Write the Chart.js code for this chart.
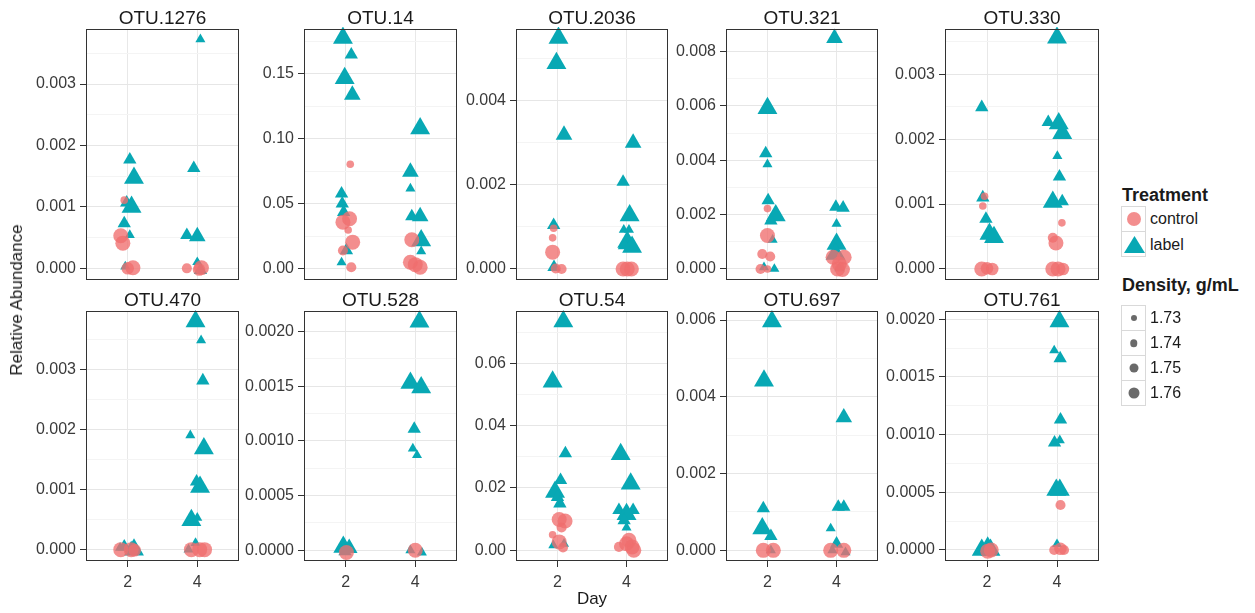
<!DOCTYPE html>
<html>
<head>
<meta charset="utf-8">
<script src="https://cdn.jsdelivr.net/npm/chart.js@4.4.0/dist/chart.umd.min.js"></script>
<style>
  body { margin: 0; background: #fff; font-family: "Liberation Sans", Arial, sans-serif; }
  #wrap { position: relative; width: 1255px; height: 613px; overflow: hidden; }
  #wrap canvas { position: absolute; }
  .strip { position: absolute; font-size: 19px; line-height: 22px; height: 22px; color: #1a1a1a; text-align: center; }
  .axis-title { position: absolute; font-size: 17px; color: #1a1a1a; white-space: nowrap; }
  .lg-title { position: absolute; left: 1122px; font-size: 18px; font-weight: bold; color: #1a1a1a; line-height: 20px; white-space: nowrap; }
  .lg-key { position: absolute; left: 1121px; width: 25px; border: 1px solid #d9d9d9; background: #fff; box-sizing: border-box; }
  .lg-key span { position: absolute; left: 50%; top: 50%; transform: translate(-50%, -50%); border-radius: 50%; }
  .lg-key svg { position: absolute; left: 0; top: 0; }
  .lg-text { position: absolute; left: 1150px; font-size: 16px; color: #1a1a1a; line-height: 20px; }
</style>
</head>
<body>
<div id="wrap"></div>
<script>
// facet names
const otuNames = ['OTU.1276', 'OTU.14', 'OTU.2036', 'OTU.321', 'OTU.330',
                  'OTU.470', 'OTU.528', 'OTU.54', 'OTU.697', 'OTU.761'];

// each point: [day (jittered), relative abundance, density g/mL]
const control1276 = [[1.90,0.00111,1.73],[1.80,0.00053,1.76],[1.86,0.00041,1.76],[2.00,0.00000,1.75],[2.15,0.00001,1.76],[3.70,0.00000,1.74],[4.12,0.00001,1.76],[4.05,-0.00002,1.75]];
const label1276 = [[4.09,0.00373,1.73],[2.06,0.00177,1.74],[2.18,0.00147,1.76],[1.97,0.00107,1.74],[2.11,0.00100,1.76],[1.90,0.00073,1.74],[2.06,0.00054,1.73],[3.90,0.00163,1.74],[3.70,0.00054,1.74],[4.00,0.00052,1.75],[4.00,0.00010,1.73],[1.93,0.00003,1.73],[4.09,-0.00003,1.74]];

const control14 = [[2.13,0.0805,1.73],[2.11,0.0386,1.76],[1.92,0.0360,1.76],[2.07,0.0300,1.73],[2.20,0.0206,1.76],[1.92,0.0142,1.74],[2.16,0.0013,1.74],[3.90,0.0224,1.76],[3.86,0.0051,1.76],[4.00,0.0033,1.76],[4.14,0.0013,1.76]];
const label14 = [[1.92,0.1776,1.76],[2.16,0.1647,1.74],[1.97,0.1467,1.76],[2.19,0.1338,1.75],[1.88,0.0579,1.74],[1.90,0.0502,1.74],[1.94,0.0437,1.74],[2.02,0.0142,1.74],[1.88,0.0050,1.73],[4.14,0.1080,1.76],[3.86,0.0746,1.75],[3.86,0.0618,1.73],[3.90,0.0404,1.74],[4.14,0.0404,1.75],[4.17,0.0219,1.76],[4.17,0.0136,1.73]];

const control2036 = [[1.89,0.00097,1.73],[1.86,0.00074,1.73],[1.86,0.00040,1.76],[2.12,0.00000,1.74],[1.95,0.00001,1.74],[3.90,0.00000,1.76],[4.02,0.00000,1.76],[4.14,0.00000,1.76]];
const label2036 = [[2.03,0.00550,1.76],[1.97,0.00490,1.76],[2.19,0.00319,1.75],[1.89,0.00104,1.74],[1.90,0.00004,1.74],[4.19,0.00300,1.75],[3.90,0.00207,1.74],[4.09,0.00127,1.76],[3.92,0.00093,1.73],[4.07,0.00093,1.73],[4.02,0.00064,1.76],[4.16,0.00052,1.76],[3.94,0.00056,1.74]];

const control321 = [[2.00,0.00222,1.73],[2.00,0.00123,1.76],[1.85,0.00055,1.74],[2.08,0.00046,1.74],[1.80,0.00000,1.74],[2.00,0.00000,1.73],[3.90,0.00043,1.76],[4.22,0.00043,1.76],[4.08,0.00018,1.76],[4.03,0.00000,1.76],[4.17,-0.00002,1.76]];
const label321 = [[3.94,0.00849,1.75],[2.00,0.00591,1.76],[1.95,0.00425,1.74],[2.00,0.00385,1.73],[2.02,0.00252,1.74],[2.24,0.00197,1.76],[2.10,0.00178,1.74],[2.15,0.00107,1.73],[3.98,0.00228,1.74],[4.19,0.00225,1.74],[4.00,0.00166,1.73],[4.00,0.00092,1.76],[3.97,0.00055,1.76],[1.90,0.00006,1.73],[2.20,0.00000,1.73],[4.08,0.00002,1.73]];

const control330 = [[1.93,0.00112,1.73],[1.88,0.00097,1.73],[4.14,0.00071,1.73],[3.88,0.00048,1.74],[3.97,0.00040,1.76],[1.85,0.00000,1.76],[2.00,0.00001,1.75],[2.15,0.00000,1.75],[3.88,0.00000,1.76],[4.03,0.00000,1.76],[4.17,0.00000,1.75]];
const label330 = [[4.00,0.00356,1.76],[1.85,0.00249,1.74],[3.75,0.00226,1.74],[4.05,0.00224,1.76],[4.15,0.00209,1.76],[4.01,0.00174,1.73],[4.07,0.00142,1.74],[1.88,0.00110,1.74],[3.88,0.00103,1.76],[4.15,0.00104,1.74],[1.97,0.00077,1.74],[2.07,0.00054,1.76],[2.20,0.00049,1.76]];

const control470 = [[1.80,0.00000,1.76],[2.10,0.00000,1.76],[2.20,-0.00001,1.75],[3.83,0.00000,1.76],[4.07,0.00000,1.76],[4.21,0.00000,1.76]];
const label470 = [[3.95,0.00379,1.76],[4.11,0.00348,1.73],[4.16,0.00281,1.74],[3.80,0.00190,1.73],[4.19,0.00168,1.76],[3.98,0.00113,1.74],[4.08,0.00104,1.76],[3.83,0.00049,1.76],[4.00,0.00053,1.73],[3.95,0.00011,1.73],[3.75,0.00000,1.73],[1.78,0.00003,1.73],[1.90,0.00005,1.74],[2.10,0.00002,1.74],[2.18,0.00000,1.76]];

const control528 = [[2.02,-0.00002,1.76],[4.00,0.00000,1.76]];
const label528 = [[4.12,0.00209,1.76],[3.86,0.00153,1.76],[4.17,0.00149,1.76],[3.97,0.00111,1.74],[3.93,0.00093,1.73],[4.05,0.00087,1.73],[1.93,0.00003,1.76],[2.10,0.00002,1.75],[1.98,-0.00001,1.74],[3.86,0.00000,1.73],[4.19,-0.00002,1.73]];

const control54 = [[2.05,0.0099,1.76],[2.22,0.0094,1.76],[2.12,0.0073,1.74],[1.86,0.0050,1.73],[2.05,0.0027,1.76],[2.16,0.0009,1.74],[3.78,0.0011,1.74],[4.07,0.0032,1.76],[4.00,0.0021,1.76],[4.16,0.0011,1.76],[4.21,0.0000,1.76]];
const label54 = [[2.17,0.0734,1.76],[1.86,0.0541,1.76],[2.23,0.0311,1.74],[2.09,0.0225,1.74],[1.93,0.0187,1.76],[2.00,0.0171,1.74],[2.07,0.0150,1.74],[3.83,0.0308,1.76],[4.12,0.0214,1.76],[3.78,0.0129,1.74],[4.19,0.0129,1.74],[4.00,0.0116,1.76],[3.93,0.0096,1.74],[4.00,0.0073,1.73],[1.88,0.0016,1.73],[2.19,0.0021,1.73]];

const control697 = [[1.88,0.00000,1.76],[2.17,0.00000,1.76],[3.83,0.00000,1.76],[4.21,0.00000,1.76]];
const label697 = [[2.13,0.00596,1.76],[1.90,0.00442,1.76],[4.21,0.00346,1.75],[1.88,0.00109,1.74],[1.85,0.00057,1.76],[2.10,0.00037,1.74],[3.83,0.00057,1.73],[4.05,0.00113,1.74],[4.21,0.00113,1.74],[4.00,0.00017,1.74],[3.88,0.00000,1.73],[2.10,0.00000,1.73],[4.26,-0.00005,1.73]];

const control761 = [[4.10,0.00039,1.74],[3.92,0.00000,1.74],[4.10,0.00001,1.75],[4.20,0.00000,1.74],[2.02,-0.00001,1.76],[2.12,0.00000,1.76]];
const label761 = [[4.07,0.00198,1.76],[3.92,0.00173,1.73],[4.09,0.00166,1.74],[4.10,0.00113,1.74],[3.93,0.00093,1.74],[4.08,0.00095,1.73],[3.98,0.00052,1.76],[4.08,0.00052,1.76],[4.00,0.00005,1.73],[1.85,0.00000,1.76],[2.02,0.00002,1.76],[2.10,0.00000,1.76]];

// y tick labels per facet
const ticks1276 = ['0.000', '0.001', '0.002', '0.003'];
const ticks14 = ['0.00', '0.05', '0.10', '0.15'];
const ticks2036 = ['0.000', '0.002', '0.004'];
const ticks321 = ['0.000', '0.002', '0.004', '0.006', '0.008'];
const ticks330 = ['0.000', '0.001', '0.002', '0.003'];
const ticks470 = ['0.000', '0.001', '0.002', '0.003'];
const ticks528 = ['0.0000', '0.0005', '0.0010', '0.0015', '0.0020'];
const ticks54 = ['0.00', '0.02', '0.04', '0.06'];
const ticks697 = ['0.000', '0.002', '0.004', '0.006'];
const ticks761 = ['0.0000', '0.0005', '0.0010', '0.0015', '0.0020'];

// y axis limits per facet (free scales)
const yMins = [-0.00019, -0.0085, -0.000263, -0.000406, -0.00017, -0.000189, -0.0000977, -0.00343, -0.000278, -0.0000955];
const yMaxs = [0.003897, 0.1845, 0.005713, 0.008825, 0.003696, 0.003966, 0.002189, 0.0768, 0.006235, 0.002072];

const dayTicks = ['2', '4'];
const densityBreaks = ['1.73', '1.74', '1.75', '1.76'];

const controlSets = [control1276, control14, control2036, control321, control330, control470, control528, control54, control697, control761];
const labelSets = [label1276, label14, label2036, label321, label330, label470, label528, label54, label697, label761];
const tickSets = [ticks1276, ticks14, ticks2036, ticks321, ticks330, ticks470, ticks528, ticks54, ticks697, ticks761];

// layout
const colLeft = [86, 304, 516, 726, 945];
const colWidth = [153, 153, 152, 152, 154];
const rowTop = [29, 311];
const rowHeight = [251, 250];
const Y_AXIS_W = 84;
const PAD = 2;

const CONTROL_COLOR = 'rgba(240,110,110,0.78)';
const LABEL_COLOR = 'rgb(8,168,180)';
const FONT = 'Liberation Sans';

// density -> marker radius
const circleR = d => 3.8 + (d - 1.73) / 0.03 * 3.7;
const triR = d => 5.8 + (d - 1.73) / 0.03 * 5.7;

const toPoints = arr => arr.map(p => ({ x: p[0], y: p[1], d: p[2] }));

const panelBorder = {
    id: 'panelBorder',
    afterDraw(chart) {
        const { ctx, chartArea: a } = chart;
        ctx.save();
        ctx.strokeStyle = '#333';
        ctx.lineWidth = 1;
        ctx.strokeRect(Math.round(a.left) + 0.5, Math.round(a.top) + 0.5,
                       Math.round(a.width) - 1, Math.round(a.height) - 1);
        ctx.restore();
    }
};

const wrap = document.getElementById('wrap');

function makePanel(i) {
    const row = Math.floor(i / 5), col = i % 5;
    const xAxisH = row === 1 ? 32 : 0;
    const w = colWidth[col] + Y_AXIS_W + 2 * PAD;
    const h = rowHeight[row] + xAxisH + 2 * PAD;

    const canvas = document.createElement('canvas');
    canvas.width = w;
    canvas.height = h;
    canvas.style.width = w + 'px';
    canvas.style.height = h + 'px';
    canvas.style.left = (colLeft[col] - Y_AXIS_W - PAD) + 'px';
    canvas.style.top = (rowTop[row] - PAD) + 'px';
    wrap.appendChild(canvas);

    const strip = document.createElement('div');
    strip.className = 'strip';
    strip.style.left = colLeft[col] + 'px';
    strip.style.width = colWidth[col] + 'px';
    strip.style.top = (rowTop[row] - 22) + 'px';
    strip.textContent = otuNames[i];
    wrap.appendChild(strip);

    const labels = tickSets[i];
    const majors = labels.map(Number);
    const step = majors[1] - majors[0];
    const minors = [majors[0] - step / 2].concat(majors.map(v => v + step / 2))
        .filter(v => v > yMins[i] && v < yMaxs[i]);
    const isMinor = v => !majors.some(m => Math.abs(m - v) < step * 1e-6);

    new Chart(canvas, {
        type: 'scatter',
        data: {
            datasets: [{
                label: 'control',
                data: toPoints(controlSets[i]),
                pointStyle: 'circle',
                backgroundColor: CONTROL_COLOR,
                borderWidth: 0,
                pointRadius: ctx => ctx.raw ? circleR(ctx.raw.d) : 4,
                clip: false
            }, {
                label: 'label',
                data: toPoints(labelSets[i]),
                pointStyle: 'triangle',
                backgroundColor: LABEL_COLOR,
                borderWidth: 0,
                pointRadius: ctx => ctx.raw ? triR(ctx.raw.d) : 6,
                clip: false
            }]
        },
        options: {
            responsive: false,
            animation: false,
            devicePixelRatio: 1,
            events: [],
            layout: { padding: PAD, autoPadding: false },
            plugins: { legend: { display: false }, tooltip: { enabled: false } },
            scales: {
                x: {
                    type: 'linear',
                    bounds: 'data',
                    min: 0.8,
                    max: 5.2,
                    afterBuildTicks: s => { s.ticks = dayTicks.map(t => ({ value: Number(t) })); },
                    afterFit: s => { s.height = xAxisH; s.paddingLeft = 0; s.paddingRight = 0; },
                    border: { display: false },
                    grid: {
                        color: '#e8e8e8',
                        drawTicks: row === 1,
                        tickLength: 6,
                        tickColor: '#333'
                    },
                    ticks: {
                        display: row === 1,
                        autoSkip: false,
                        maxRotation: 0,
                        padding: 6,
                        color: '#3a3a3a',
                        font: { family: FONT, size: 16 },
                        callback: v => String(v)
                    }
                },
                y: {
                    type: 'linear',
                    bounds: 'data',
                    min: yMins[i],
                    max: yMaxs[i],
                    afterBuildTicks: s => {
                        s.ticks = majors.concat(minors).sort((a, b) => a - b).map(v => ({ value: v }));
                    },
                    afterFit: s => { s.width = Y_AXIS_W; s.paddingTop = 0; s.paddingBottom = 0; },
                    border: { display: false },
                    grid: {
                        color: c => (c.tick && isMinor(c.tick.value)) ? '#f4f4f4' : '#e6e6e6',
                        tickLength: 6,
                        tickColor: c => (c.tick && isMinor(c.tick.value)) ? 'rgba(0,0,0,0)' : '#333'
                    },
                    ticks: {
                        autoSkip: false,
                        padding: 4,
                        color: '#3a3a3a',
                        font: { family: FONT, size: 16 },
                        callback: v => {
                            const k = majors.findIndex(m => Math.abs(m - v) < step * 1e-6);
                            return k >= 0 ? labels[k] : '';
                        }
                    }
                }
            }
        },
        plugins: [panelBorder]
    });
}

for (let i = 0; i < otuNames.length; i++) makePanel(i);

// axis titles
const yTitle = document.createElement('div');
yTitle.className = 'axis-title';
yTitle.textContent = 'Relative Abundance';
yTitle.style.left = '17px';
yTitle.style.top = '300px';
yTitle.style.transform = 'translate(-50%, -50%) rotate(-90deg)';
wrap.appendChild(yTitle);

const xTitle = document.createElement('div');
xTitle.className = 'axis-title';
xTitle.textContent = 'Day';
xTitle.style.left = '592px';
xTitle.style.top = '599px';
xTitle.style.transform = 'translate(-50%, -50%)';
wrap.appendChild(xTitle);

// legends
function addEl(cls, top, html, extra) {
    const el = document.createElement('div');
    el.className = cls;
    el.style.top = top + 'px';
    if (extra) Object.assign(el.style, extra);
    el.innerHTML = html;
    wrap.appendChild(el);
    return el;
}

addEl('lg-title', 185, 'Treatment');
addEl('lg-key', 206, '<span style="width:14px;height:14px;background:' + CONTROL_COLOR + '"></span>', { height: '26px' });
addEl('lg-key', 231, '<svg width="25" height="26"><polygon points="12.5,4 23,21 2,21" fill="' + LABEL_COLOR + '"/></svg>', { height: '26px' });
addEl('lg-text', 209, 'control');
addEl('lg-text', 235, 'label');

addEl('lg-title', 275, 'Density, g/mL');
const keyDiam = [6, 7.5, 9, 11];
densityBreaks.forEach((b, k) => {
    const top = 305 + k * 25;
    addEl('lg-key', top, '<span style="width:' + keyDiam[k] + 'px;height:' + keyDiam[k] + 'px;background:rgba(80,80,80,0.85)"></span>', { height: '26px' });
    addEl('lg-text', top + 3, b);
});
</script>
</body>
</html>
